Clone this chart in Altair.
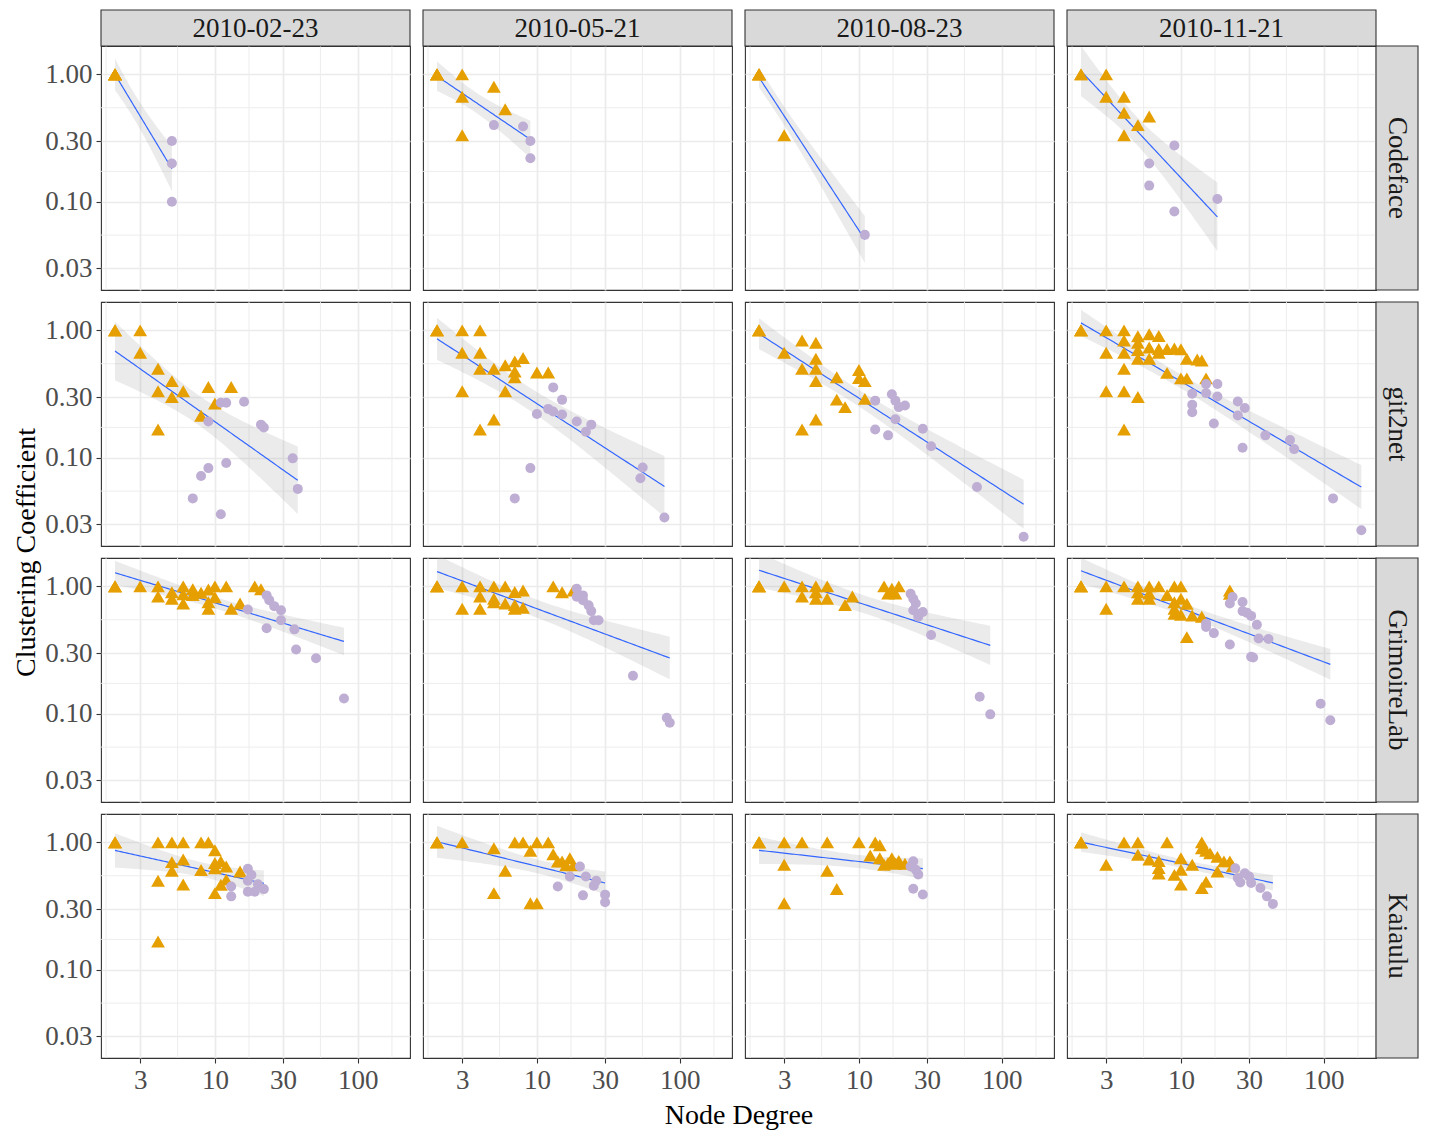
import numpy as np
import pandas as pd
import altair as alt

# ---------------------------------------------------------------- data
TOOLS = ["Codeface", "git2net", "GrimoireLab", "Kaiaulu"]
DATES = ["2010-02-23", "2010-05-21", "2010-08-23", "2010-11-21"]
X_TICKS = [3, 10, 30, 100]
Y_TICKS = [0.03, 0.1, 0.3, 1.0]
X_DOMAIN = [1.596, 231.7]
Y_DOMAIN = [0.0203, 1.671]

# (node degree, clustering coefficient[, number of coincident nodes])
CF1_TRI = [(2, 1.00, 6)]
CF1_CIR = [(5, 0.30), (5, 0.20), (5, 0.10)]
CF2_TRI = [(2, 1.00, 5), (3, 1.00), (3, 0.667), (3, 0.333), (5, 0.80), (6, 0.533)]
CF2_CIR = [(5, 0.40), (8, 0.39), (9, 0.30), (9, 0.22)]
CF3_TRI = [(2, 1.00, 5), (3, 0.333)]
CF3_CIR = [(11, 0.055)]
CF4_TRI = [(2, 1.00, 2), (3, 1.00), (3, 0.667), (4, 0.667), (4, 0.50), (4, 0.333),
           (5, 0.40), (6, 0.467)]
CF4_CIR = [(9, 0.277), (6, 0.20), (6, 0.134), (9, 0.084), (18, 0.105)]

G1_TRI = [(2, 1.0, 3), (3, 1.0), (3, 0.667), (4, 0.5), (5, 0.4), (4, 0.333), (6, 0.333),
          (5, 0.3), (9, 0.36), (13, 0.36), (10, 0.267), (8, 0.214), (4, 0.167)]
G1_CIR = [(9, 0.193), (11, 0.27), (12, 0.27), (16, 0.275), (21, 0.182), (22, 0.173),
          (35, 0.099), (38, 0.057), (9, 0.083), (8, 0.072), (12, 0.091), (7, 0.048), (11, 0.036)]
G2_TRI = [(2, 1.0, 3), (3, 1.0), (4, 1.0), (3, 0.667), (4, 0.667), (4, 0.5), (5, 0.5),
          (6, 0.533), (7, 0.571), (8, 0.607), (7, 0.476), (7, 0.429), (10, 0.467), (12, 0.467),
          (6, 0.333), (3, 0.333), (5, 0.2), (4, 0.167)]
G2_CIR = [(13, 0.357), (15, 0.285), (10, 0.221), (12, 0.242), (13, 0.231), (15, 0.219),
          (19, 0.193), (24, 0.182), (22, 0.16), (55, 0.084), (53, 0.069), (78, 0.034),
          (9, 0.083), (7, 0.048)]
G3_TRI = [(2, 1.0, 3), (3, 0.667), (4, 0.833), (5, 0.8), (5, 0.6), (5, 0.5), (5, 0.4),
          (4, 0.5), (7, 0.429), (10, 0.489), (10, 0.422), (11, 0.4), (7, 0.286), (8, 0.25),
          (11, 0.29), (5, 0.2), (4, 0.167)]
G3_CIR = [(13, 0.281), (17, 0.315), (18, 0.281), (19, 0.25), (21, 0.257), (18, 0.201),
          (13, 0.167), (16, 0.15), (28, 0.169), (32, 0.123), (67, 0.059), (142, 0.024)]
G4_TRI = [(2, 1.0, 3), (3, 1.0), (4, 1.0), (5, 0.9), (6, 0.933), (7, 0.905), (4, 0.833),
          (3, 0.667), (4, 0.667), (5, 0.8), (5, 0.7), (5, 0.6), (6, 0.733), (6, 0.6),
          (7, 0.714), (7, 0.667), (8, 0.714), (9, 0.722), (10, 0.711), (11, 0.6), (13, 0.59),
          (14, 0.58), (4, 0.5), (8, 0.464), (10, 0.42), (11, 0.42), (15, 0.42), (3, 0.333),
          (4, 0.333), (5, 0.3), (4, 0.167)]
G4_CIR = [(15, 0.38), (18, 0.38), (15, 0.322), (12, 0.318), (18, 0.303), (12, 0.261),
          (12, 0.228), (25, 0.277), (28, 0.246), (25, 0.215), (17, 0.186), (27, 0.12),
          (39, 0.15), (58, 0.138), (62, 0.117), (116, 0.048), (183, 0.027)]

GL1_TRI = [(2, 1.0, 3), (3, 1.0), (4, 1.0), (4, 0.833), (5, 0.9), (5, 0.8), (6, 1.0),
           (6, 0.867), (6, 0.733), (7, 0.952), (7, 0.857), (8, 0.893), (9, 0.944), (9, 0.75),
           (10, 1.0), (10, 0.822), (9, 0.667), (12, 1.0), (13, 0.667), (15, 0.733),
           (19, 1.0), (21, 0.95)]
GL1_CIR = [(17, 0.658), (23, 0.85), (24, 0.78), (26, 0.70), (29, 0.65), (29, 0.543),
           (23, 0.47), (36, 0.46), (37, 0.32), (51, 0.273), (80, 0.132)]
GL2_TRI = [(2, 1.0, 3), (3, 1.0), (4, 1.0), (5, 1.0), (6, 1.0), (7, 0.905), (8, 0.929),
           (4, 0.833), (5, 0.8), (5, 0.75), (6, 0.733), (7, 0.714), (8, 0.679), (7, 0.667),
           (3, 0.667), (4, 0.667), (13, 1.0), (15, 0.9), (18, 0.93)]
GL2_CIR = [(19, 0.96), (19, 0.83), (21, 0.85), (21, 0.78), (23, 0.71), (24, 0.64),
           (25, 0.543), (27, 0.543), (47, 0.199), (81, 0.093), (85, 0.085)]
GL3_TRI = [(2, 1.0, 3), (3, 1.0), (4, 1.0), (5, 1.0), (6, 1.0), (4, 0.833), (5, 0.8),
           (6, 0.8), (5, 0.9), (8, 0.714), (9, 0.833), (15, 1.0), (17, 0.96), (19, 1.0),
           (16, 0.88), (18, 0.88)]
GL3_CIR = [(23, 0.877), (24, 0.8), (25, 0.733), (24, 0.65), (26, 0.61), (28, 0.63),
           (26, 0.577), (32, 0.415), (70, 0.136), (83, 0.099)]
GL4_TRI = [(2, 1.0, 3), (3, 1.0), (4, 1.0), (5, 1.0), (6, 1.0), (7, 1.0), (9, 1.0),
           (10, 1.0), (5, 0.9), (6, 0.88), (5, 0.8), (6, 0.8), (8, 0.857), (9, 0.75),
           (10, 0.8), (11, 0.73), (9, 0.667), (9, 0.611), (10, 0.6), (12, 0.59), (14, 0.577),
           (3, 0.667), (11, 0.4), (22, 0.93), (22, 0.877)]
GL4_CIR = [(23, 0.826), (22, 0.733), (27, 0.755), (27, 0.64), (29, 0.62), (31, 0.587),
           (34, 0.50), (15, 0.51), (15, 0.48), (17, 0.43), (22, 0.35), (35, 0.39),
           (41, 0.387), (31, 0.28), (32, 0.277), (95, 0.12), (111, 0.089)]

K1_TRI = [(2, 1.0, 3), (4, 1.0), (5, 1.0), (6, 1.0), (8, 1.0), (9, 1.0), (10, 0.867),
          (6, 0.733), (5, 0.7), (5, 0.6), (8, 0.607), (4, 0.5), (6, 0.467), (10, 0.69),
          (11, 0.71), (12, 0.646), (10, 0.627), (12, 0.51), (11, 0.465), (10, 0.4),
          (15, 0.59), (4, 0.167)]
K1_CIR = [(13, 0.45), (13, 0.377), (17, 0.62), (18, 0.556), (17, 0.50), (17, 0.41),
          (20, 0.47), (19, 0.41), (22, 0.43)]
K2_TRI = [(2, 1.0, 3), (3, 1.0), (5, 0.9), (7, 1.0), (8, 1.0), (10, 1.0), (12, 1.0),
          (9, 0.861), (13, 0.806), (14, 0.707), (15, 0.71), (17, 0.75), (16, 0.66),
          (18, 0.66), (6, 0.6), (5, 0.4), (9, 0.333), (10, 0.333)]
K2_CIR = [(20, 0.646), (17, 0.54), (22, 0.54), (26, 0.50), (25, 0.457), (14, 0.45),
          (21, 0.384), (30, 0.389), (30, 0.339)]
K3_TRI = [(2, 1.0, 3), (3, 1.0), (4, 1.0), (6, 1.0), (10, 1.0), (13, 1.0), (14, 0.95),
          (3, 0.667), (6, 0.6), (7, 0.43), (3, 0.333), (12, 0.79), (14, 0.75), (15, 0.667),
          (17, 0.75), (19, 0.716), (21, 0.68), (18, 0.68), (16, 0.69)]
K3_CIR = [(24, 0.71), (23, 0.646), (25, 0.61), (26, 0.56), (24, 0.433), (28, 0.39)]
K4_TRI = [(2, 1.0, 3), (4, 1.0), (5, 1.0), (8, 1.0), (14, 1.0), (3, 0.667), (5, 0.8),
          (6, 0.733), (7, 0.714), (7, 0.63), (7, 0.57), (9, 0.556), (10, 0.75), (10, 0.61),
          (10, 0.466), (12, 0.667), (14, 0.438), (15, 0.49), (14, 0.9), (15, 0.86),
          (16, 0.82), (18, 0.77), (20, 0.71), (22, 0.71), (18, 0.59), (23, 0.65)]
K4_CIR = [(24, 0.627), (25, 0.525), (26, 0.485), (30, 0.54), (31, 0.48), (36, 0.438),
          (40, 0.377), (44, 0.329), (28, 0.573)]

PANELS = {
    ("Codeface", 0): (CF1_TRI, CF1_CIR), ("Codeface", 1): (CF2_TRI, CF2_CIR),
    ("Codeface", 2): (CF3_TRI, CF3_CIR), ("Codeface", 3): (CF4_TRI, CF4_CIR),
    ("git2net", 0): (G1_TRI, G1_CIR), ("git2net", 1): (G2_TRI, G2_CIR),
    ("git2net", 2): (G3_TRI, G3_CIR), ("git2net", 3): (G4_TRI, G4_CIR),
    ("GrimoireLab", 0): (GL1_TRI, GL1_CIR), ("GrimoireLab", 1): (GL2_TRI, GL2_CIR),
    ("GrimoireLab", 2): (GL3_TRI, GL3_CIR), ("GrimoireLab", 3): (GL4_TRI, GL4_CIR),
    ("Kaiaulu", 0): (K1_TRI, K1_CIR), ("Kaiaulu", 1): (K2_TRI, K2_CIR),
    ("Kaiaulu", 2): (K3_TRI, K3_CIR), ("Kaiaulu", 3): (K4_TRI, K4_CIR),
}

# ---------------------------------------------------------------- style
FONT = "Liberation Serif"
W, H = 309, 244
STRIP = 36
ORANGE, PURPLE, BLUE = "#E69F00", "#BEAED4", "#3366FF"
GRID = "#EBEBEB"
DARK = "#333333"


def expand(rows, tool, date, kind):
    out = []
    for row in rows:
        n = row[2] if len(row) > 2 else 1
        for _ in range(n):
            out.append({"tool": tool, "date": date, "kind": kind, "x": row[0], "y": row[1]})
    return out


records = []
for (tool, c), (tri, cir) in PANELS.items():
    records += expand(tri, tool, DATES[c], "core")
    records += expand(cir, tool, DATES[c], "peripheral")
df = pd.DataFrame(records)

T975 = {1: 12.706, 2: 4.303, 3: 3.182, 4: 2.776, 5: 2.571, 6: 2.447, 7: 2.365,
        8: 2.306, 9: 2.262, 10: 2.228}


def t975(dof):
    if dof in T975:
        return T975[dof]
    z = 1.959964
    return (z + (z**3 + z) / (4 * dof) + (5 * z**5 + 16 * z**3 + 3 * z) / (96 * dof**2)
            + (3 * z**7 + 19 * z**5 + 17 * z**3 - 15 * z) / (384 * dof**3))


def fit_band(pts):
    # linear model on the log-log scale with a 95% confidence band
    lx = np.log10(pts["x"].to_numpy(float))
    ly = np.log10(pts["y"].to_numpy(float))
    n = lx.size
    mx, my = lx.mean(), ly.mean()
    sxx = ((lx - mx) ** 2).sum()
    b1 = ((lx - mx) * (ly - my)).sum() / sxx
    b0 = my - b1 * mx
    s = np.sqrt(((ly - (b0 + b1 * lx)) ** 2).sum() / (n - 2))
    g = np.linspace(lx.min(), lx.max(), 80)
    pred = b0 + b1 * g
    se = s * np.sqrt(1 / n + (g - mx) ** 2 / sxx)
    t = t975(n - 2)
    return pd.DataFrame({"x": 10 ** g, "fit": 10 ** pred,
                         "lo": 10 ** (pred - t * se), "hi": 10 ** (pred + t * se)})


def minor(vals):
    v = np.log10(vals)
    return [10 ** m for m in (v[:-1] + v[1:]) / 2]


X_MINOR = pd.DataFrame({"v": [m for m in minor(np.array([1] + X_TICKS + [300]))
                              if X_DOMAIN[0] < m < X_DOMAIN[1]]})
Y_MINOR = pd.DataFrame({"v": [m for m in minor(np.array([0.01] + Y_TICKS + [3.0]))
                              if Y_DOMAIN[0] < m < Y_DOMAIN[1]]})
ONE = pd.DataFrame({"k": [0]})

XS = alt.Scale(type="log", domain=X_DOMAIN, nice=False)
YS = alt.Scale(type="log", domain=Y_DOMAIN, nice=False)


def x_axis(r, c):
    kw = dict(values=X_TICKS, format="d", grid=True, domain=False,
              labels=(r == 3), ticks=(r == 3))
    if r == 3 and c == 1:
        kw.update(title="Node Degree", titleX=W + 6.5, titlePadding=8)
    else:
        kw["title"] = None
    return alt.Axis(**kw)


def y_axis(r, c):
    kw = dict(values=Y_TICKS, format=".2f", grid=True, domain=False,
              labels=(c == 0), ticks=(c == 0))
    if c == 0 and r == 1:
        kw.update(title="Clustering Coefficient", titleY=H + 6)
    else:
        kw["title"] = None
    return alt.Axis(**kw)


def panel(r, c):
    tool, date = TOOLS[r], DATES[c]
    pts = df[(df.tool == tool) & (df.date == date)]
    band = fit_band(pts)
    xa, ya = x_axis(r, c), y_axis(r, c)

    layers = [
        alt.Chart(X_MINOR).mark_rule(color=GRID, strokeWidth=0.9).encode(
            x=alt.X("v:Q", scale=XS, axis=xa)),
        alt.Chart(Y_MINOR).mark_rule(color=GRID, strokeWidth=0.9).encode(
            y=alt.Y("v:Q", scale=YS, axis=ya)),
        alt.Chart(band).mark_area(color="#999999", opacity=0.2, clip=True).encode(
            x=alt.X("x:Q", scale=XS, axis=xa),
            y=alt.Y("lo:Q", scale=YS, axis=ya), y2="hi:Q"),
        alt.Chart(band).mark_line(color=BLUE, strokeWidth=1.2, clip=True).encode(
            x=alt.X("x:Q", scale=XS, axis=xa),
            y=alt.Y("fit:Q", scale=YS, axis=ya)),
        alt.Chart(pts[pts.kind == "core"]).mark_point(
            shape="triangle-up", filled=True, size=190, color=ORANGE, opacity=1).encode(
            x=alt.X("x:Q", scale=XS, axis=xa), y=alt.Y("y:Q", scale=YS, axis=ya)),
        alt.Chart(pts[pts.kind == "peripheral"]).mark_circle(
            size=100, color=PURPLE, opacity=1).encode(
            x=alt.X("x:Q", scale=XS, axis=xa), y=alt.Y("y:Q", scale=YS, axis=ya)),
    ]
    if r == 0:
        layers += [
            alt.Chart(ONE).mark_rect(fill="#D9D9D9", stroke=DARK, strokeWidth=1.1).encode(
                x=alt.value(0), x2=alt.value(W), y=alt.value(-STRIP), y2=alt.value(0)),
            alt.Chart(ONE).mark_text(font=FONT, fontSize=27, color="#1A1A1A",
                                     baseline="middle", align="center").encode(
                x=alt.value(W / 2), y=alt.value(-STRIP / 2 + 1), text=alt.value(date)),
        ]
    if c == 3:
        layers += [
            alt.Chart(ONE).mark_rect(fill="#D9D9D9", stroke=DARK, strokeWidth=1.1).encode(
                x=alt.value(W), x2=alt.value(W + 42), y=alt.value(0), y2=alt.value(H)),
            alt.Chart(ONE).mark_text(font=FONT, fontSize=27, color="#1A1A1A", angle=90,
                                     baseline="middle", align="center").encode(
                x=alt.value(W + 21), y=alt.value(H / 2), text=alt.value(tool)),
        ]
    return alt.layer(*layers).properties(width=W, height=H)


panels = [panel(r, c) for r in range(4) for c in range(4)]

chart = alt.concat(*panels, columns=4, spacing={"row": 12, "column": 13},
                   bounds="flush").properties(
    padding={"left": 4, "top": 0, "right": 0, "bottom": 0}).configure_view(
    stroke=DARK, strokeWidth=1.1).configure_axis(
    gridColor=GRID, gridWidth=1.7, tickColor=DARK, tickSize=5, tickWidth=1.1,
    labelFont=FONT, labelFontSize=27, labelColor="#4D4D4D", labelPadding=4,
    titleFont=FONT, titleFontSize=28, titleFontWeight="normal", titleColor="#000000",
    titlePadding=4)

chart.save("out.html", embed_options={"renderer": "svg", "actions": False})
